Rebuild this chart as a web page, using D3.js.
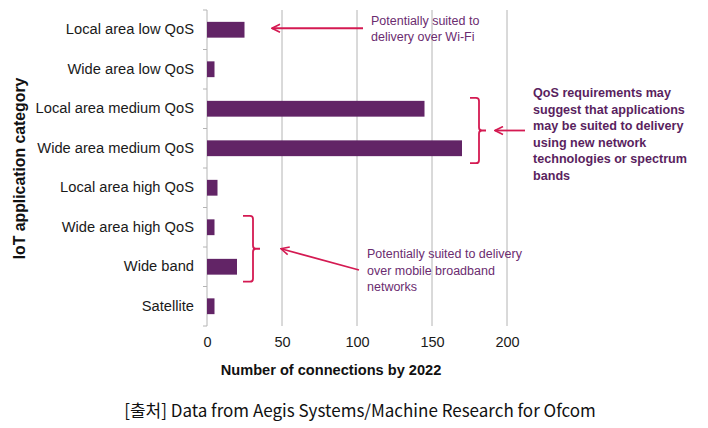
<!DOCTYPE html>
<html>
<head>
<meta charset="utf-8">
<script src="https://cdn.jsdelivr.net/npm/d3@7"></script>
<style>
  html, body { margin: 0; padding: 0; background: #fff; }
  svg { display: block; }
</style>
</head>
<body>
<svg id="chart" width="708" height="428"></svg>
<script>
const categories = [
  "Local area low QoS",
  "Wide area low QoS",
  "Local area medium QoS",
  "Wide area medium QoS",
  "Local area high QoS",
  "Wide area high QoS",
  "Wide band",
  "Satellite"
];
const values = [25, 5, 145, 170, 7, 5, 20, 5];
const xTicks = [0, 50, 100, 150, 200];
const xTitle = "Number of connections by 2022";
const yTitle = "IoT application category";
const caption = "[출처] Data from Aegis Systems/Machine Research for Ofcom";
const noteWifi = ["Potentially suited to", "delivery over Wi-Fi"];
const noteNew = ["QoS requirements may", "suggest that applications", "may be suited to delivery", "using new network", "technologies or spectrum", "bands"];
const noteMobile = ["Potentially suited to delivery", "over mobile broadband", "networks"];

const svg = d3.select("#chart");
const font = "'Liberation Sans', Arial, sans-serif";
const barColor = "#622466";
const red = "#d41a52";
const gridColor = "#b4b4b4";

const pLeft = 207, pRight = 507, pTop = 10, pBottom = 326;
const x = d3.scaleLinear().domain([0, 200]).range([pLeft, pRight]);
const pad = 0.6;
const y = d3.scaleBand().domain(categories).range([pTop, pBottom]).paddingInner(pad).paddingOuter(pad / 2);
const step = y.step();

// gridlines
svg.append("g").selectAll("line").data(xTicks).join("line")
  .attr("x1", d => x(d)).attr("x2", d => x(d))
  .attr("y1", pTop).attr("y2", pBottom)
  .attr("stroke", gridColor).attr("stroke-width", 1);

// category tick marks
const boundaries = categories.map(c => y(c) - step * pad / 2).concat([pBottom]);
svg.append("g").selectAll("line").data(boundaries).join("line")
  .attr("x1", pLeft - 4).attr("x2", pLeft)
  .attr("y1", d => d).attr("y2", d => d)
  .attr("stroke", gridColor).attr("stroke-width", 1);

// bars
svg.append("g").selectAll("rect").data(values).join("rect")
  .attr("x", x(0))
  .attr("y", (d, i) => y(categories[i]))
  .attr("width", d => x(d) - x(0))
  .attr("height", y.bandwidth())
  .attr("fill", barColor);

// x axis labels
const xAxis = d3.axisBottom(x).tickValues(xTicks).tickSize(0).tickPadding(11).tickFormat(d3.format("d"));
const gx = svg.append("g").attr("transform", `translate(0,${pBottom})`).call(xAxis);
gx.select(".domain").remove();
gx.selectAll("text").attr("font-family", font).attr("font-size", 14.5).attr("fill", "#1a1a1a");

// y axis labels
const yAxis = d3.axisLeft(y).tickSize(0).tickPadding(13);
const gy = svg.append("g").attr("transform", `translate(${pLeft},0)`).call(yAxis);
gy.select(".domain").remove();
gy.selectAll("text").attr("font-family", font).attr("font-size", 14.7).attr("fill", "#1a1a1a");

// axis titles
svg.append("text").attr("x", 331).attr("y", 375)
  .attr("text-anchor", "middle").attr("font-family", font).attr("font-size", 14.6)
  .attr("font-weight", "bold").attr("fill", "#111").text(xTitle);
svg.append("text").attr("transform", "translate(25,168.5) rotate(-90)")
  .attr("text-anchor", "middle").attr("font-family", font).attr("font-size", 15.8)
  .attr("font-weight", "bold").attr("fill", "#111").text(yTitle);

// caption
svg.append("text").attr("x", 360).attr("y", 416.5)
  .attr("text-anchor", "middle").attr("font-family", "'Noto Sans CJK KR', sans-serif").attr("font-size", 17)
  .attr("fill", "#111").text(caption);

// arrow marker
const defs = svg.append("defs");
defs.append("marker").attr("id", "arr").attr("viewBox", "0 0 10 10")
  .attr("refX", 1).attr("refY", 5).attr("markerWidth", 10).attr("markerHeight", 10)
  .attr("markerUnits", "userSpaceOnUse").attr("orient", "auto")
  .append("path").attr("d", "M9,1 L1,5 L9,9").attr("fill", "none")
  .attr("stroke", red).attr("stroke-width", 1.6);

function arrow(x1, y1, x2, y2) {
  svg.append("line").attr("x1", x1).attr("y1", y1).attr("x2", x2).attr("y2", y2)
    .attr("stroke", red).attr("stroke-width", 1.8)
    .attr("marker-start", "url(#arr)");
}
function brace(xl, xm, y1, y2) {
  const ym = (y1 + y2) / 2;
  const r = 3;
  const p = `M${xl},${y1} L${xm - r},${y1} Q${xm},${y1} ${xm},${y1 + r} L${xm},${ym - r} Q${xm},${ym} ${xm + r},${ym} L${xm + 7},${ym}` +
    ` M${xm + r},${ym} Q${xm},${ym} ${xm},${ym + r} L${xm},${y2 - r} Q${xm},${y2} ${xm - r},${y2} L${xl},${y2}`;
  svg.append("path").attr("d", p).attr("fill", "none").attr("stroke", red).attr("stroke-width", 1.8);
}
function note(lines, x0, y0, lh, bold, color) {
  const t = svg.append("text").attr("font-family", font).attr("font-size", bold ? 12.6 : 12.5)
    .attr("font-weight", bold ? "bold" : "normal").attr("fill", color);
  lines.forEach((l, i) => t.append("tspan").attr("x", x0).attr("y", y0 + i * lh).text(l));
}

// Wi-Fi annotation
const wy = y(categories[0]) + y.bandwidth() / 2 - 1.5;
arrow(272, wy, 363, wy);
note(noteWifi, 371, 25, 16, false, "#6b2c70");

// new technologies annotation
const b1 = y(categories[2]) - 3, b2 = y(categories[3]) + y.bandwidth() + 7;
brace(470, 479, b1, b2);
arrow(495, (b1 + b2) / 2, 525, (b1 + b2) / 2);
note(noteNew, 533, 97, 16.6, true, "#5a1f60");

// mobile broadband annotation
const c1 = y(categories[5]) - 3.5, c2 = y(categories[6]) + y.bandwidth() + 7;
brace(243, 253, c1, c2);
arrow(281, (c1 + c2) / 2, 359, 270);
note(noteMobile, 367, 258, 16.5, false, "#6b2c70");
</script>
</body>
</html>
